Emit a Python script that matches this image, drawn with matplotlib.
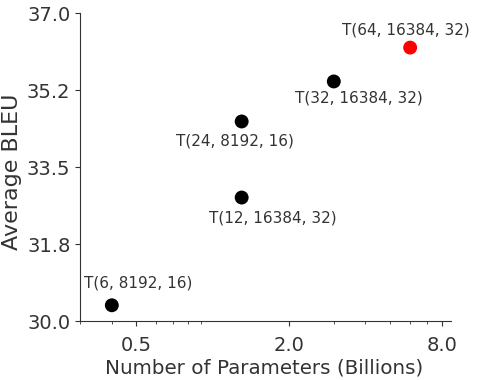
import matplotlib
matplotlib.use("Agg")
import matplotlib.pyplot as plt
import numpy as np

labels = ["T(6, 8192, 16)", "T(12, 16384, 32)", "T(24, 8192, 16)", "T(32, 16384, 32)", "T(64, 16384, 32)"]
params_b = [0.40, 1.30, 1.30, 3.0, 6.0]
bleu = [30.36, 32.81, 34.54, 35.45, 36.22]
colors = ["black", "black", "black", "black", "red"]
offsets = [(26, 22), (31, -20), (-7, -20), (25, -17), (-4, 18)]
xticks = [0.5, 2.0, 8.0]
yticks = np.linspace(30, 37, 5)

TXT = "#333333"
fig = plt.figure(figsize=(5.04, 3.8), dpi=100)
ax = fig.add_axes([0.159, 0.155, 0.736, 0.81])
ax.scatter(params_b, bleu, c=colors, s=100, linewidths=0, zorder=3)
for lab, x, y, off in zip(labels, params_b, bleu, offsets):
    ax.annotate(lab, (x, y), xytext=off, textcoords="offset pixels",
                ha="center", va="center", fontsize=11, color=TXT)
ax.set_xscale("log")
ax.set_xlim(0.3, 8.7)
ax.set_ylim(30, 37)
ax.set_xticks(xticks)
ax.set_xticklabels([f"{v:.1f}" for v in xticks])
ax.set_yticks(yticks)
ax.set_yticklabels([f"{v:.1f}" for v in yticks])
for s in ["top", "right"]:
    ax.spines[s].set_visible(False)
for s in ["left", "bottom"]:
    ax.spines[s].set_color(TXT)
ax.tick_params(axis="both", which="major", labelsize=14, colors=TXT, labelcolor=TXT)
ax.tick_params(axis="x", which="major", pad=7)
ax.tick_params(axis="x", which="minor", colors=TXT)
ax.set_xlabel("Number of Parameters (Billions)", fontsize=14.3, color=TXT, va="center", ha="center")
ax.set_ylabel("Average BLEU", fontsize=16, color=TXT, va="center", ha="center")
ax.xaxis.set_label_coords(0.497, -0.152)
ax.yaxis.set_label_coords(-0.183, 0.485)
fig.savefig("out.png", dpi=100)
